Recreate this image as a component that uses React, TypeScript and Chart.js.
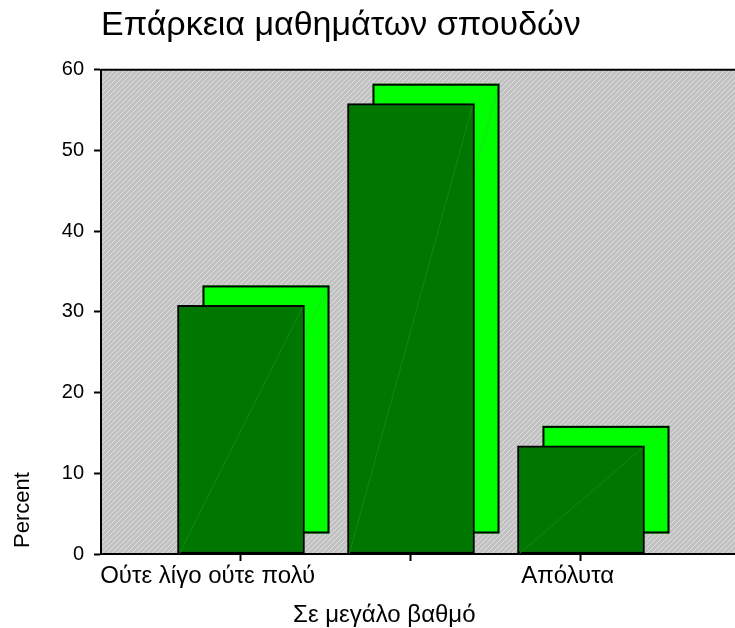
import React, { useEffect, useRef } from 'react';
import { Chart, registerables } from 'chart.js';

Chart.register(...registerables);

// ---- data ----
const chartTitle = 'Επάρκεια μαθημάτων σπουδών';
const categories = ['Ούτε λίγο ούτε πολύ', 'Σε μεγάλο βαθμό', 'Απόλυτα'];
const percents = [30.8, 55.8, 13.4];
const yTickValues = [0, 10, 20, 30, 40, 50, 60];
const yAxisTitle = 'Percent';

// ---- style ----
const FONT = "'Liberation Sans', Arial, Helvetica, sans-serif";
const FRONT = '#007700';
const BACK = '#00ff00';
const DEPTH_X = 25;
const DEPTH_Y = 20;
// trailing spaces used to nudge each category label left of its tick (as in the original)
const LABEL_NUDGE = [10, 8, 4];

function makeHatch(ctx: CanvasRenderingContext2D) {
  const c = document.createElement('canvas');
  c.width = 5;
  c.height = 5;
  const g = c.getContext('2d')!;
  g.fillStyle = '#c2c2c2';
  g.fillRect(0, 0, 5, 5);
  g.fillStyle = '#dedede';
  for (let i = 0; i < 5; i++) g.fillRect(i, 4 - i, 1, 1);
  return ctx.createPattern(c, 'repeat')!;
}

const depthPlugin = {
  id: 'depth3d',
  beforeDraw(chart: any) {
    const { ctx, chartArea: a } = chart;
    ctx.save();
    ctx.fillStyle = makeHatch(ctx);
    ctx.fillRect(a.left, a.top, a.right - a.left, a.bottom - a.top);
    ctx.strokeStyle = '#000';
    ctx.lineWidth = 2;
    ctx.beginPath();
    ctx.moveTo(a.left, a.top);
    ctx.lineTo(a.right, a.top);
    ctx.stroke();
    ctx.restore();
  },
  beforeDatasetsDraw(chart: any) {
    const { ctx } = chart;
    const meta = chart.getDatasetMeta(0);
    ctx.save();
    meta.data.forEach((bar: any) => {
      const { x, y, base, width } = bar.getProps(['x', 'y', 'base', 'width'], true);
      const l = x - width / 2 + DEPTH_X;
      const r = x + width / 2 + DEPTH_X;
      const t = y - DEPTH_Y;
      const b = base - DEPTH_Y;
      ctx.fillStyle = BACK;
      ctx.fillRect(l, t, r - l, b - t);
      ctx.strokeStyle = '#1ee01e';
      ctx.lineWidth = 1;
      ctx.beginPath();
      ctx.moveTo(l, b);
      ctx.lineTo(r, t);
      ctx.stroke();
      ctx.strokeStyle = '#000';
      ctx.lineWidth = 2;
      ctx.strokeRect(l + 1, t + 1, r - l - 2, b - t - 2);
    });
    ctx.restore();
  },
  afterDatasetsDraw(chart: any) {
    const { ctx } = chart;
    const meta = chart.getDatasetMeta(0);
    ctx.save();
    meta.data.forEach((bar: any) => {
      const { x, y, base, width } = bar.getProps(['x', 'y', 'base', 'width'], true);
      ctx.strokeStyle = '#0f8a0f';
      ctx.lineWidth = 1;
      ctx.beginPath();
      ctx.moveTo(x - width / 2 + 2, base);
      ctx.lineTo(x + width / 2 - 2, y + 2);
      ctx.stroke();
    });
    ctx.restore();
  },
};

export default function App() {
  const ref = useRef<HTMLCanvasElement>(null);

  useEffect(() => {
    if (!ref.current) return;
    Chart.defaults.color = '#000';
    const chart = new Chart(ref.current, {
      type: 'bar',
      data: {
        datasets: [
          {
            data: percents.map((v, i) => ({ x: i + 1, y: v })),
            backgroundColor: FRONT,
            borderColor: '#000',
            borderWidth: 2,
            borderSkipped: false,
            barThickness: 127,
          },
        ],
      },
      options: {
        animation: false,
        responsive: false,
        maintainAspectRatio: false,
        devicePixelRatio: 1,
        layout: { padding: 0 },
        plugins: {
          legend: { display: false },
          tooltip: { enabled: false },
          title: {
            display: true,
            text: chartTitle,
            align: 'start',
            fullSize: false,
            color: '#000',
            font: { family: FONT, size: 34, weight: 'normal' },
            padding: { top: 5, bottom: 24 },
          },
        },
        scales: {
          x: {
            type: 'linear',
            min: 0.1765,
            max: 3.906,
            offset: false,
            afterBuildTicks: (s: any) => {
              s.ticks = categories.map((_, i) => ({ value: i + 1 }));
            },
            afterFit: (s: any) => {
              s.height = 74;
            },
            grid: { drawOnChartArea: false, offset: false, tickLength: 7, tickColor: '#000', tickWidth: 2 },
            border: { color: '#000', width: 2 },
            ticks: {
              autoSkip: false,
              maxRotation: 0,
              minRotation: 0,
              padding: -4,
              font: { family: FONT, size: 24, lineHeight: '39px' as any },
              color: '#000',
              callback: (v: any) => {
                const i = Math.round(Number(v)) - 1;
                const label = (categories[i] ?? '') + ' '.repeat(LABEL_NUDGE[i] ?? 0);
                return i % 2 === 1 ? ['', label] : label;
              },
            },
          },
          y: {
            min: yTickValues[0],
            max: yTickValues[yTickValues.length - 1],
            afterBuildTicks: (s: any) => {
              s.ticks = yTickValues.map((v) => ({ value: v }));
            },
            afterFit: (s: any) => {
              s.width = 101;
            },
            grid: { drawOnChartArea: false, tickLength: 7, tickColor: '#000', tickWidth: 2 },
            border: { color: '#000', width: 2 },
            ticks: {
              padding: 10,
              font: { family: FONT, size: 20 },
              color: '#000',
            },
            title: {
              display: true,
              text: ' ' + yAxisTitle,
              align: 'start',
              color: '#000',
              font: { family: FONT, size: 22 },
              padding: { top: 10, bottom: 0 },
            },
          },
        },
      },
      plugins: [depthPlugin],
    });
    return () => chart.destroy();
  }, []);

  return (
    <div style={{ position: 'fixed', left: 0, top: 0, width: 735, height: 628, overflow: 'hidden', background: '#fff' }}>
      <canvas ref={ref} width={735} height={628} style={{ display: 'block' }} />
    </div>
  );
}
